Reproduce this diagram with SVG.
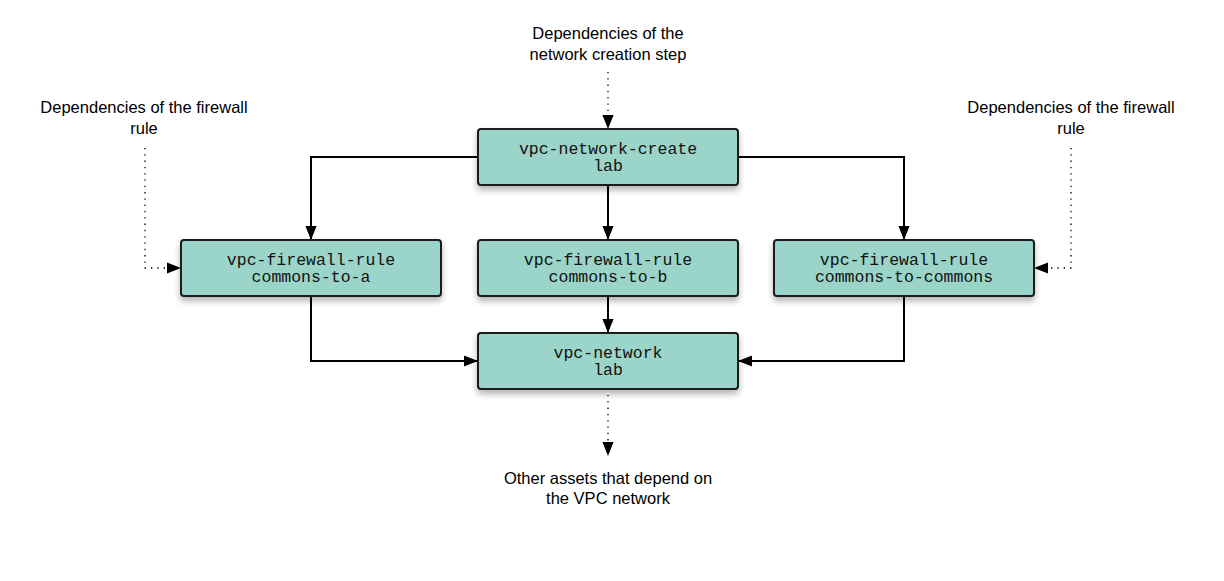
<svg xmlns="http://www.w3.org/2000/svg" width="1224" height="581" viewBox="0 0 1224 581">
<defs>
<style>
.node rect{fill:#9bd4c8;stroke:#1a1a1a;stroke-width:2;filter:url(#sh)}
.node text{font-family:"Liberation Mono",monospace;font-size:16.5px;fill:#111;text-anchor:middle}
.lbl{font-family:"Liberation Sans",Arial,sans-serif;font-size:16.5px;fill:#000;text-anchor:middle}
.solid{fill:none;stroke:#000;stroke-width:2}
.dot{fill:none;stroke:#000;stroke-width:1.3;stroke-dasharray:1.3 5}
</style>
<filter id="sh" x="-10%" y="-20%" width="120%" height="160%">
<feDropShadow dx="0" dy="4" stdDeviation="3" flood-color="#000" flood-opacity="0.3"/>
</filter>
<marker id="ahb" viewBox="0 0 10 10" refX="10" refY="5" markerWidth="14" markerHeight="14" markerUnits="userSpaceOnUse" orient="auto">
<path d="M0,1 L10,5 L0,9 z" fill="#000"/>
</marker>
</defs>
<rect width="1224" height="581" fill="#fff"/>
<g id="connectors">
<path class="solid" d="M478,157 H311 V240" marker-end="url(#ahb)"/>
<path class="solid" d="M738,157 H904 V240" marker-end="url(#ahb)"/>
<path class="solid" d="M608,185 V240" marker-end="url(#ahb)"/>
<path class="solid" d="M311,296 V361 H478" marker-end="url(#ahb)"/>
<path class="solid" d="M608,296 V333" marker-end="url(#ahb)"/>
<path class="solid" d="M904,296 V361 H738" marker-end="url(#ahb)"/>
<path class="dot" d="M608,72 V129" marker-end="url(#ahb)"/>
<path class="dot" d="M145,148 V268 H181" marker-end="url(#ahb)"/>
<path class="dot" d="M1071,148 V268 H1034" marker-end="url(#ahb)"/>
<path class="dot" d="M608,395 V456" marker-end="url(#ahb)"/>
</g>
<g id="n-create" class="node"><rect x="478" y="129" width="260" height="56" rx="3"/><text x="608" y="154">vpc-network-create</text><text x="608" y="171">lab</text></g>
<g id="n-fw-a" class="node"><rect x="181" y="240" width="260" height="56" rx="3"/><text x="311" y="265">vpc-firewall-rule</text><text x="311" y="282">commons-to-a</text></g>
<g id="n-fw-b" class="node"><rect x="478" y="240" width="260" height="56" rx="3"/><text x="608" y="265">vpc-firewall-rule</text><text x="608" y="282">commons-to-b</text></g>
<g id="n-fw-c" class="node"><rect x="774" y="240" width="260" height="56" rx="3"/><text x="904" y="265">vpc-firewall-rule</text><text x="904" y="282">commons-to-commons</text></g>
<g id="n-net" class="node"><rect x="478" y="333" width="260" height="56" rx="3"/><text x="608" y="358">vpc-network</text><text x="608" y="375">lab</text></g>
<g id="labels">
<text class="lbl" x="608" y="39">Dependencies of the</text>
<text class="lbl" x="608" y="60">network creation step</text>
<text class="lbl" x="144" y="113">Dependencies of the firewall</text>
<text class="lbl" x="144" y="134">rule</text>
<text class="lbl" x="1071" y="113">Dependencies of the firewall</text>
<text class="lbl" x="1071" y="134">rule</text>
<text class="lbl" x="608" y="484">Other assets that depend on</text>
<text class="lbl" x="608" y="504">the VPC network</text>
</g>
</svg>
